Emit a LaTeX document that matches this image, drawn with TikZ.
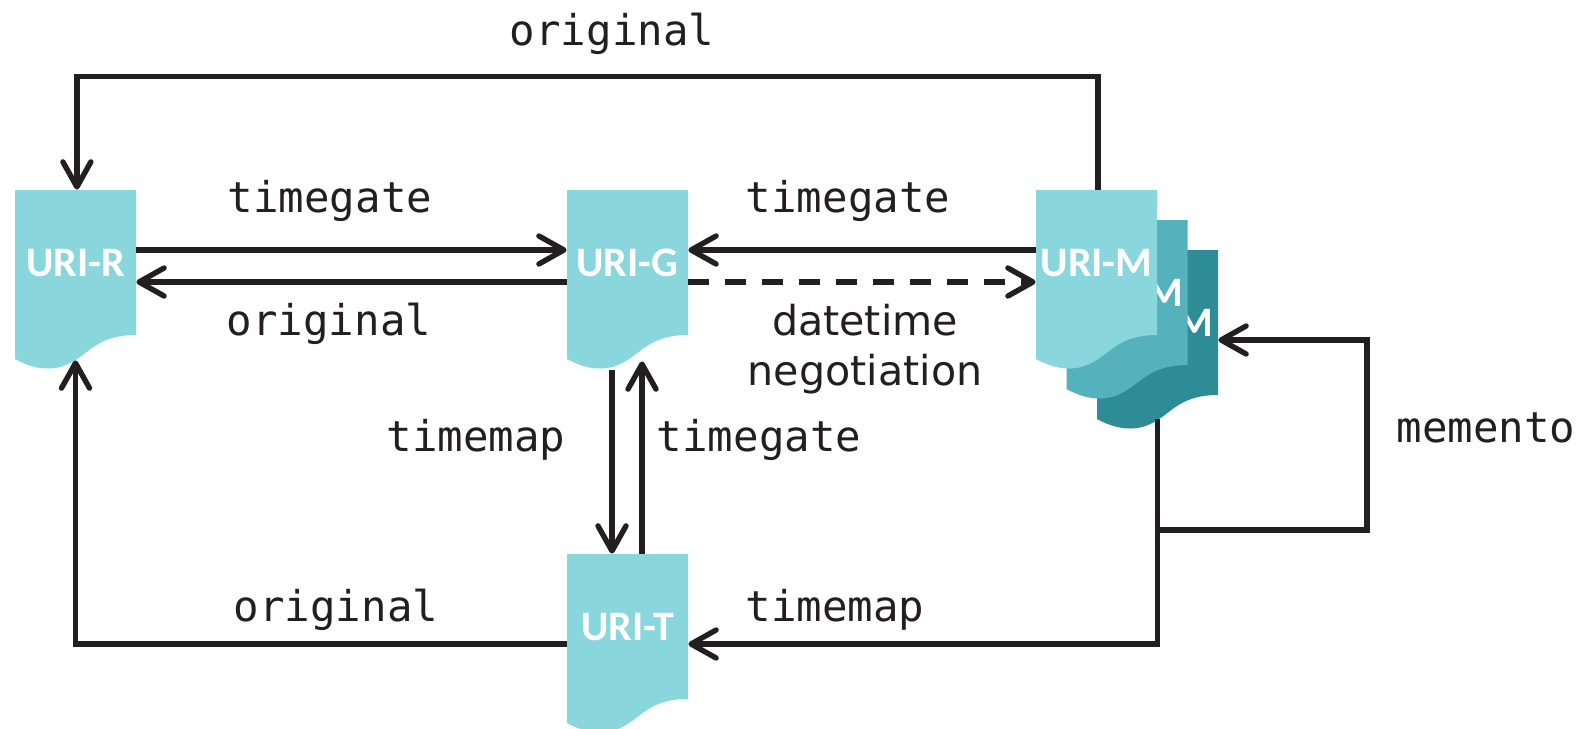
\documentclass[tikz,border=0pt]{standalone}
\usepackage{fontspec}
\setmainfont{Carlito}
\newfontfamily\linkfont{DejaVu Sans Mono}
\newfontfamily\notefont{DejaVu Sans}
\usetikzlibrary{arrows.meta}
\definecolor{docA}{HTML}{8AD6DD}
\definecolor{docB}{HTML}{55B1BB}
\definecolor{docC}{HTML}{2D8C96}
\definecolor{ink}{HTML}{231F20}
\tikzset{
  uri/.style={rectangle,minimum width=60.5pt,minimum height=73pt,inner sep=0pt,text=white,font=\fontsize{21}{22}\selectfont\bfseries},
  linktext/.style={font=\linkfont\fontsize{21.2}{25.5}\selectfont,text=ink,inner sep=0pt,anchor=base,align=center},
  notetext/.style={font=\notefont\fontsize{20.6}{25}\selectfont,text=ink,inner sep=0pt,anchor=base},
  link/.style={draw=ink,line width=2.7pt,-{Straight Barb[length=12.5pt,width=14pt,round]}}
}
% document shape with its wavy lower edge, then the node on top
\newcommand{\urinode}[4]{%
  \fill[#3,shift={(#2)}] (-60.5,-73) -- (60.5,-73) -- (60.5,72)
    .. controls (25,72) and (15,88) .. (0,97)
    .. controls (-15,107) and (-35,110) .. (-60.5,96) -- cycle;
  \node[uri] (#1) at (#2) {#4};
}
\begin{document}
\begin{tikzpicture}[x=0.5pt,y=-0.5pt]
\clip (0,0) rectangle (1593,728);

\urinode{urir}{75.5,263}{docA}{URI-R}
\urinode{urig}{627.5,263}{docA}{URI-G}
\urinode{urit}{627.5,627}{docA}{URI-T}
\urinode{urim3}{1157.5,323}{docC}{URI-M}
\urinode{urim2}{1127,293}{docB}{URI-M}
\urinode{urim1}{1096.5,263}{docA}{URI-M}

% links
\draw[link] ([xshift=0.7pt]urim1.north) -- ++(0,-113) -| ([xshift=0.7pt]urir.north);
\draw[link] ([yshift=6.5pt]urir.east) -- ([yshift=6.5pt]urig.west);
\draw[link] ([yshift=-9.5pt]urig.west) -- ([yshift=-9.5pt]urir.east);
\draw[link] ([yshift=6.5pt]urim1.west) -- ([yshift=6.5pt]urig.east);
\draw[link,dash pattern=on 10.5pt off 8pt] ([yshift=-9.5pt]urig.east) -- ([yshift=-9.5pt]urim1.west);
\draw[link] ([xshift=-7.75pt,yshift=-17pt]urig.south) -- ([xshift=-7.75pt]urit.north);
\draw[link] ([xshift=7.25pt]urit.north) -- ([xshift=7.25pt,yshift=-12.5pt]urig.south);
\draw[link] ([yshift=-8.5pt]urit.west) -| ([yshift=-12pt]urir.south);
\draw[link] ([yshift=-11.5pt]urim3.south) |- ([yshift=-8.5pt]urit.east);
\coordinate (split) at (1157,530);
\draw[link] (split) -- ++(210,0) |- ([yshift=-8.5pt]urim3.east);

% link labels
\node[linktext] (toporiginal) at (612,45) {original};
\node[linktext] (rgtimegate) at (330,212) {timegate};
\node[linktext] (groriginal) at (329,335) {original};
\node[linktext] (mgtimegate) at (848,212) {timegate};
\node[notetext] (gmdatetime) at (865,335) {datetime};
\node[notetext] (gmnegotiation) at (865,385) {negotiation};
\node[linktext] (gttimemap) at (476,451) {timemap};
\node[linktext] (tgtimegate) at (759,451) {timegate};
\node[linktext] (mmmemento) at (1486,442) {memento};
\node[linktext] (troriginal) at (336,621) {original};
\node[linktext] (mttimemap) at (835,621) {timemap};
\end{tikzpicture}
\end{document}
